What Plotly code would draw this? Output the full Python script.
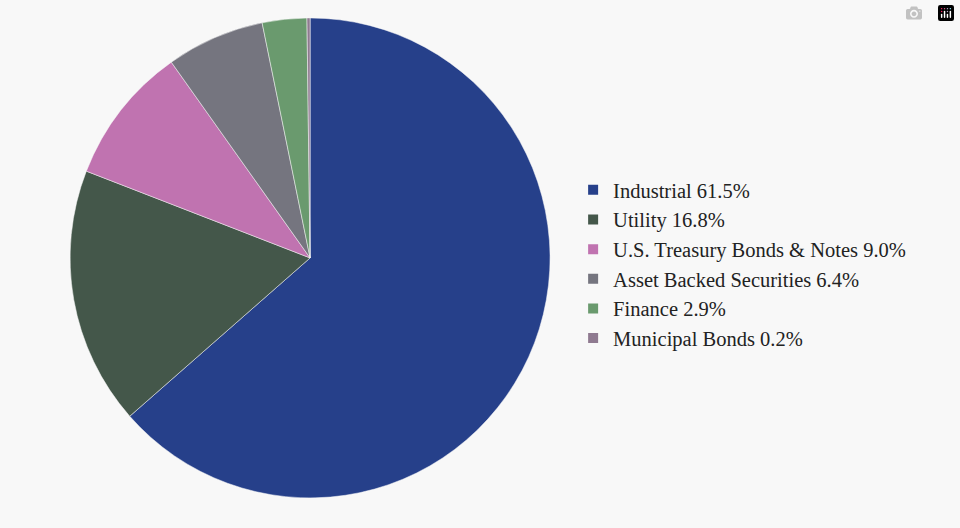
# Portfolio sector breakdown pie chart
import plotly.graph_objects as go

# Data
sectors = ['Industrial', 'Utility', 'U.S. Treasury Bonds & Notes',
           'Asset Backed Securities', 'Finance', 'Municipal Bonds']
weights = [61.5, 16.8, 9.0, 6.4, 2.9, 0.2]
colors = ['#26408a', '#44574a', '#c073b0', '#75757f', '#6a9a6e', '#8f7a90']

labels = [f"{s} {w:.1f}%" for s, w in zip(sectors, weights)]

fig = go.Figure(go.Pie(
    labels=labels,
    values=weights,
    sort=False,
    direction='clockwise',
    rotation=0,
    textinfo='none',
    hoverinfo='label',
    marker=dict(colors=colors, line=dict(color='#f8f8f8', width=0.5)),
    domain=dict(x=[0.073, 0.573], y=[0.057, 0.966]),
))

fig.update_layout(
    width=960, height=528,
    paper_bgcolor='#f8f8f8',
    plot_bgcolor='#f8f8f8',
    margin=dict(l=0, r=0, t=0, b=0),
    font=dict(family="Liberation Serif, Times New Roman, serif", size=20.5, color='#222222'),
    legend=dict(x=0.597, y=0.5, xanchor='left', yanchor='middle',
                tracegroupgap=0, itemsizing='constant'),
)

# Remove default page margin so the chart fills the window
fig.write_html("out.html", post_script="document.body.style.margin='0';")
